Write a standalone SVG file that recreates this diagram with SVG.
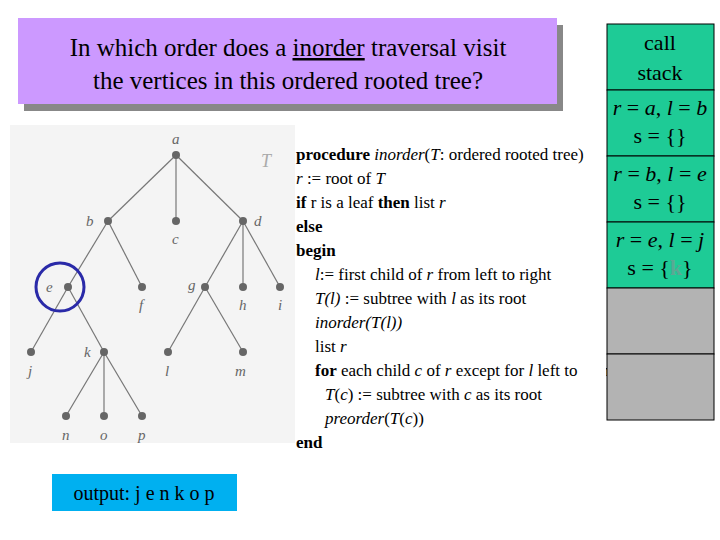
<svg xmlns="http://www.w3.org/2000/svg" width="720" height="540" viewBox="0 0 720 540">
<style>
.e{stroke:#777;stroke-width:1.2}
.n{fill:#666}
.lb{font-family:"Liberation Serif",serif;font-style:italic;font-size:15px;fill:#666}
.code{font-family:"Liberation Serif",serif;font-size:17px;fill:#000}
.st{font-family:"Liberation Serif",serif;font-size:22px;fill:#000;text-anchor:middle}
.cell{stroke:#000;stroke-width:1}
</style>
<rect width="720" height="540" fill="#fff"/>
<g id="title">
<rect x="24" y="25" width="539" height="86" fill="#888"/>
<rect x="18" y="18" width="539" height="86" fill="#cc99ff"/>
<text x="288" y="56" font-family="Liberation Serif,serif" font-size="25" text-anchor="middle">In which order does a <tspan text-decoration="underline">inorder</tspan> traversal visit</text>
<text x="288" y="89" font-family="Liberation Serif,serif" font-size="25" text-anchor="middle">the vertices in this ordered rooted tree?</text>
</g>
<rect x="10" y="125" width="285" height="318" fill="#f4f4f4"/>
<g id="edges">
<line class="e" x1="176" y1="155" x2="108" y2="221"/>
<line class="e" x1="176" y1="155" x2="176" y2="221"/>
<line class="e" x1="176" y1="155" x2="243" y2="221"/>
<line class="e" x1="108" y1="221" x2="68" y2="287"/>
<line class="e" x1="108" y1="221" x2="142" y2="287"/>
<line class="e" x1="243" y1="221" x2="205" y2="287"/>
<line class="e" x1="243" y1="221" x2="243" y2="287"/>
<line class="e" x1="243" y1="221" x2="280" y2="287"/>
<line class="e" x1="68" y1="287" x2="31" y2="352"/>
<line class="e" x1="68" y1="287" x2="104" y2="352"/>
<line class="e" x1="205" y1="287" x2="168" y2="352"/>
<line class="e" x1="205" y1="287" x2="243" y2="352"/>
<line class="e" x1="104" y1="352" x2="66" y2="416"/>
<line class="e" x1="104" y1="352" x2="104" y2="416"/>
<line class="e" x1="104" y1="352" x2="142" y2="416"/>
</g>
<g id="nodes">
<g id="a"><circle class="n" cx="176" cy="155" r="4"/><text class="lb" x="172" y="144">a</text></g>
<g id="b"><circle class="n" cx="108" cy="221" r="4"/><text class="lb" x="86" y="226">b</text></g>
<g id="c"><circle class="n" cx="176" cy="221" r="4"/><text class="lb" x="172" y="244">c</text></g>
<g id="d"><circle class="n" cx="243" cy="221" r="4"/><text class="lb" x="254" y="226">d</text></g>
<g id="e"><circle class="n" cx="68" cy="287" r="4"/><text class="lb" x="46" y="292">e</text></g>
<g id="f"><circle class="n" cx="142" cy="287" r="4"/><text class="lb" x="139" y="310">f</text></g>
<g id="g"><circle class="n" cx="205" cy="287" r="4"/><text class="lb" x="188" y="290">g</text></g>
<g id="h"><circle class="n" cx="243" cy="287" r="4"/><text class="lb" x="239" y="310">h</text></g>
<g id="i"><circle class="n" cx="280" cy="287" r="4"/><text class="lb" x="278" y="310">i</text></g>
<g id="j"><circle class="n" cx="31" cy="352" r="4"/><text class="lb" x="28" y="376">j</text></g>
<g id="k"><circle class="n" cx="104" cy="352" r="4"/><text class="lb" x="84" y="357">k</text></g>
<g id="l"><circle class="n" cx="168" cy="352" r="4"/><text class="lb" x="165" y="376">l</text></g>
<g id="m"><circle class="n" cx="243" cy="352" r="4"/><text class="lb" x="235" y="376">m</text></g>
<g id="n"><circle class="n" cx="66" cy="416" r="4"/><text class="lb" x="62" y="440">n</text></g>
<g id="o"><circle class="n" cx="104" cy="416" r="4"/><text class="lb" x="100" y="440">o</text></g>
<g id="p"><circle class="n" cx="142" cy="416" r="4"/><text class="lb" x="138" y="440">p</text></g>
<text x="261" y="167" font-family="Liberation Serif,serif" font-style="italic" font-size="18" fill="#aaa">T</text>
<circle cx="60" cy="287" r="24" fill="none" stroke="#2a2aa8" stroke-width="3"/>
</g>
<g id="code" class="code">
<text x="296" y="160"><tspan font-weight="bold">procedure</tspan> <tspan font-style="italic">inorder</tspan>(<tspan font-style="italic">T</tspan>: ordered rooted tree)</text>
<text x="296" y="184"><tspan font-style="italic">r</tspan> := root of <tspan font-style="italic">T</tspan></text>
<text x="296" y="208"><tspan font-weight="bold">if</tspan> r is a leaf <tspan font-weight="bold">then</tspan> list <tspan font-style="italic">r</tspan></text>
<text x="296" y="232" font-weight="bold">else</text>
<text x="296" y="256" font-weight="bold">begin</text>
<text x="315" y="280"><tspan font-style="italic">l</tspan>:= first child of <tspan font-style="italic">r</tspan> from left to right</text>
<text x="315" y="304"><tspan font-style="italic">T(l)</tspan> := subtree with <tspan font-style="italic">l</tspan> as its root</text>
<text x="315" y="328" font-style="italic">inorder(T(l))</text>
<text x="315" y="352">list <tspan font-style="italic">r</tspan></text>
<text x="315" y="376"><tspan font-weight="bold">for</tspan> each child <tspan font-style="italic">c</tspan> of <tspan font-style="italic">r</tspan> except for <tspan font-style="italic">l</tspan> left to right</text>
<text x="325" y="400"><tspan font-style="italic">T</tspan>(<tspan font-style="italic">c</tspan>) := subtree with <tspan font-style="italic">c</tspan> as its root</text>
<text x="325" y="424"><tspan font-style="italic">preorder</tspan>(<tspan font-style="italic">T</tspan>(<tspan font-style="italic">c</tspan>))</text>
<text x="296" y="448" font-weight="bold">end</text>
</g>
<g id="stack">
<rect x="720" y="0" width="0" height="0"/>
<rect class="cell" x="607" y="24" width="107" height="66" fill="#1ecb96"/>
<rect class="cell" x="607" y="90" width="107" height="66" fill="#1ecb96"/>
<rect class="cell" x="607" y="156" width="107" height="66" fill="#1ecb96"/>
<rect class="cell" x="607" y="222" width="107" height="66" fill="#1ecb96"/>
<rect class="cell" x="607" y="288" width="107" height="66" fill="#b3b3b3"/>
<rect class="cell" x="607" y="354" width="107" height="66" fill="#b3b3b3"/>
<rect x="580" y="354" width="26" height="70" fill="#fff"/>
<text class="st" x="660" y="50">call</text>
<text class="st" x="660" y="80">stack</text>
<text class="st" x="660" y="115"><tspan font-style="italic">r</tspan> = <tspan font-style="italic">a</tspan>, <tspan font-style="italic">l</tspan> = <tspan font-style="italic">b</tspan></text>
<text class="st" x="660" y="143">s = {}</text>
<text class="st" x="660" y="181"><tspan font-style="italic">r</tspan> = <tspan font-style="italic">b</tspan>, <tspan font-style="italic">l</tspan> = <tspan font-style="italic">e</tspan></text>
<text class="st" x="660" y="209">s = {}</text>
<text class="st" x="660" y="247"><tspan font-style="italic">r</tspan> = <tspan font-style="italic">e</tspan>, <tspan font-style="italic">l</tspan> = <tspan font-style="italic">j</tspan></text>
<text class="st" x="660" y="275">s = {<tspan fill="#5aa894" font-weight="bold">k</tspan>}</text>
</g>
<g id="output">
<rect x="52" y="474" width="185" height="37" fill="#00b0f0"/>
<text x="144" y="500" font-family="Liberation Serif,serif" font-size="20" text-anchor="middle">output: j e n k o p</text>
</g>
</svg>
